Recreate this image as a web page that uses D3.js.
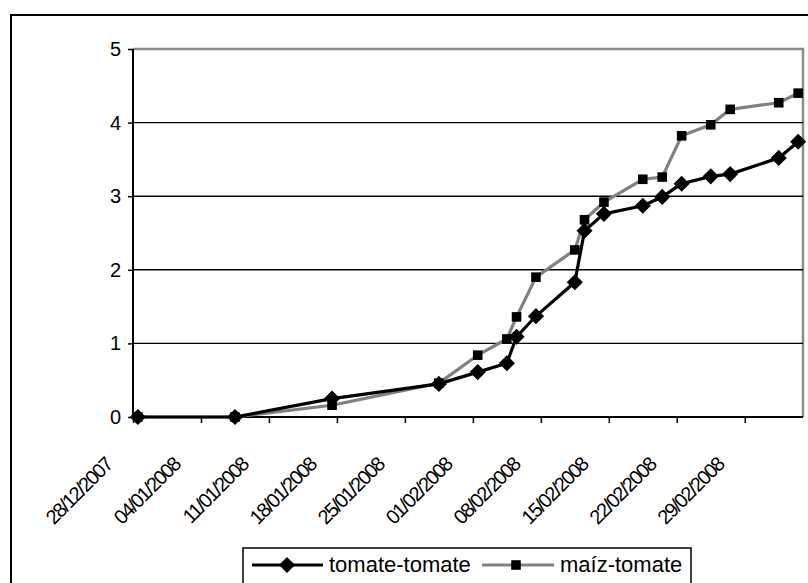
<!DOCTYPE html>
<html><head><meta charset="utf-8">
<script src="https://cdn.jsdelivr.net/npm/d3@7"></script>
<style>body{margin:0;background:#fff;overflow:hidden} text{font-family:"Liberation Sans",Arial,sans-serif}</style>
</head><body><svg id="c" width="808" height="583"></svg>
<script>
const dates = ["28/12/2007","07/01/2008","17/01/2008","28/01/2008","01/02/2008","04/02/2008","05/02/2008","07/02/2008","11/02/2008","12/02/2008","14/02/2008","18/02/2008","20/02/2008","22/02/2008","25/02/2008","27/02/2008","03/03/2008","05/03/2008"];
const tomateTomate = [0,0,0.25,0.45,0.61,0.73,1.09,1.37,1.83,2.53,2.76,2.87,2.99,3.17,3.27,3.30,3.52,3.74];
const maizTomate = [0,0,0.16,0.46,0.84,1.06,1.36,1.90,2.27,2.68,2.92,3.23,3.26,3.82,3.97,4.18,4.27,4.40];
const tickLabels = ["28/12/2007","04/01/2008","11/01/2008","18/01/2008","25/01/2008","01/02/2008","08/02/2008","15/02/2008","22/02/2008","29/02/2008"];
const yTicks = [0,1,2,3,4,5];
const seriesNames = ["tomate-tomate","maíz-tomate"];

const parse = d3.timeParse("%d/%m/%Y");
const svg = d3.select("#c");
const L = 133, R = 803, T = 49, B = 417;
const x = d3.scaleTime().domain([parse("28/12/2007"), parse("06/03/2008")]).range([L, R]);
const y = d3.scaleLinear().domain([0, 5]).range([B, T]);
const px = d => x(d3.timeHour.offset(parse(d), 12));

// outer border
svg.append("rect").attr("x", 11).attr("y", 15).attr("width", 820).attr("height", 600)
  .attr("fill", "none").attr("stroke", "#000").attr("stroke-width", 2);

// plot border top/right grey
svg.append("path").attr("d", `M${L},${T}H${R}V${B}`).attr("fill","none").attr("stroke","#8c8c8c").attr("stroke-width",2.5);

// gridlines
svg.append("g").selectAll("line").data(yTicks.filter(v => v > 0 && v < 5)).join("line")
  .attr("x1", L).attr("x2", R).attr("y1", d => y(d)).attr("y2", d => y(d))
  .attr("stroke", "#000").attr("stroke-width", 1.4);

// y axis
const ya = svg.append("g").attr("transform", `translate(${L},0)`)
  .call(d3.axisLeft(y).tickValues(yTicks).tickSize(5).tickPadding(7).tickFormat(d3.format("d")));
ya.select(".domain").attr("stroke-width", 2).attr("d", `M0,${T}V${B}`);
ya.selectAll(".tick line").attr("stroke-width", 1.5);
ya.selectAll(".tick text").attr("font-size", 20).attr("font-family", "Liberation Sans, Arial, sans-serif").attr("fill","#000");

// x axis
const tickDates = tickLabels.map(parse);
const xa = svg.append("g").attr("transform", `translate(0,${B})`)
  .call(d3.axisBottom(x).tickValues(tickDates).tickSize(6).tickFormat(d3.timeFormat("%d/%m/%Y")));
xa.select(".domain").attr("stroke-width", 2).attr("d", `M${L},0H${R}`);
xa.selectAll(".tick line").attr("stroke-width", 1.5);
xa.selectAll(".tick text")
  .attr("font-size", 20).attr("font-family", "Liberation Sans, Arial, sans-serif").attr("fill","#000")
  .attr("letter-spacing", "-1.6px")
  .attr("text-anchor", "end").attr("dy", null).attr("y", 0)
  .attr("transform", "translate(-20,49) rotate(-45)");

// series
const line = d3.line().x((d,i) => px(dates[i])).y(d => y(d));
const diamond = d3.symbol(d3.symbolSquare, 130);
const square = d3.symbol(d3.symbolSquare, 92);

svg.append("path").datum(maizTomate).attr("d", line).attr("fill","none").attr("stroke","#808080").attr("stroke-width",3.2).attr("stroke-linejoin","round");
svg.append("g").selectAll("path").data(maizTomate).join("path")
  .attr("d", square).attr("transform", (d,i) => `translate(${px(dates[i])},${y(d)})`).attr("fill","#000");

svg.append("path").datum(tomateTomate).attr("d", line).attr("fill","none").attr("stroke","#000").attr("stroke-width",3.2).attr("stroke-linejoin","round");
svg.append("g").selectAll("path").data(tomateTomate).join("path")
  .attr("d", diamond).attr("transform", (d,i) => `translate(${px(dates[i])},${y(d)}) rotate(45)`).attr("fill","#000");

// legend
const lg = svg.append("g");
lg.append("rect").attr("x", 243).attr("y", 548).attr("width", 448).attr("height", 60)
  .attr("fill","#fff").attr("stroke","#000").attr("stroke-width",1.5);
const ly = 565;
lg.append("line").attr("x1",252).attr("x2",323).attr("y1",ly).attr("y2",ly).attr("stroke","#000").attr("stroke-width",3.2);
lg.append("path").attr("d", diamond).attr("transform", `translate(287,${ly}) rotate(45)`).attr("fill","#000");
lg.append("text").attr("x",329).attr("y",ly+7).attr("font-size",22).text(seriesNames[0]);
lg.append("line").attr("x1",482).attr("x2",554).attr("y1",ly).attr("y2",ly).attr("stroke","#808080").attr("stroke-width",3.2);
lg.append("path").attr("d", square).attr("transform", `translate(516,${ly})`).attr("fill","#000");
lg.append("text").attr("x",560).attr("y",ly+7).attr("font-size",22).text(seriesNames[1]);
</script></body></html>
